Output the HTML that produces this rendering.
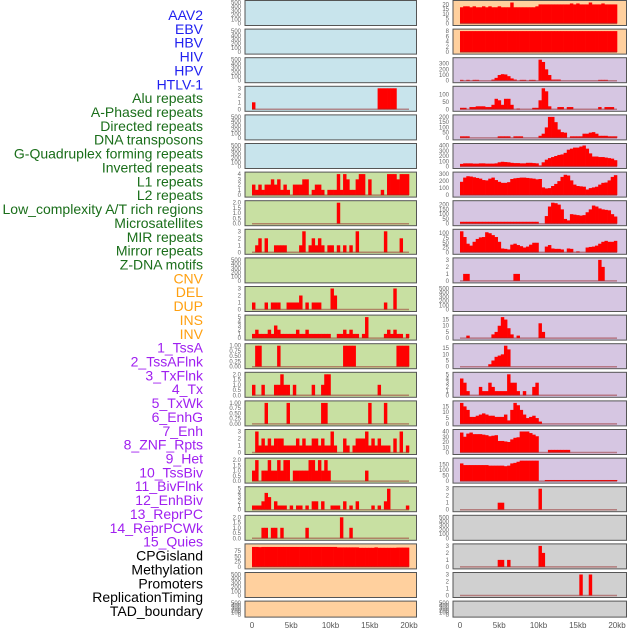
<!DOCTYPE html>
<html><head><meta charset="utf-8"><style>
html,body{margin:0;padding:0;background:#fff;width:630px;height:630px;overflow:hidden}
svg{display:block}
</style></head><body>
<svg id="chart" width="630" height="630" xmlns="http://www.w3.org/2000/svg">
<g id="labels"></g>
<g id="panels"></g>
<g id="xaxis"></g>
</svg>
<script>
const labelNames = ["AAV2","EBV","HBV","HIV","HPV","HTLV-1","Alu repeats","A-Phased repeats","Directed repeats","DNA transposons","G-Quadruplex forming repeats","Inverted repeats","L1 repeats","L2 repeats","Low_complexity A/T rich regions","Microsatellites","MIR repeats","Mirror repeats","Z-DNA motifs","CNV","DEL","DUP","INS","INV","1_TssA","2_TssAFlnk","3_TxFlnk","4_Tx","5_TxWk","6_EnhG","7_Enh","8_ZNF_Rpts","9_Het","10_TssBiv","11_BivFlnk","12_EnhBiv","13_ReprPC","14_ReprPCWk","15_Quies","CPGisland","Methylation","Promoters","ReplicationTiming","TAD_boundary"];
const labelGroups = ["v","v","v","v","v","v","r","r","r","r","r","r","r","r","r","r","r","r","r","s","s","s","s","s","c","c","c","c","c","c","c","c","c","c","c","c","c","c","c","o","o","o","o","o"];
const xTickLabels = ["0","5kb","10kb","15kb","20kb"];
const xTickValues = [0,5,10,15,20];

const E = null;
const L04=[1,0,0,0,0,0,0,0,0,0,0,0,0,0,0,0,0,0,0,0,0,0,0,0,0,0,0,0,0,0,0,0,0,0,0,0,0,0,0,0,3,3,3,3,3,3,0,0,0,0];
const L07=[2,1,2,1,2,2,3,2,3,1,2,1,0,2,2,2,3,3,0,1,2,2,1,0,1,1,1,4,1,4,3,1,1,3,4,4,0,3,0,0,0,1,0,4,4,4,3,4,4,4];
const L08=[0,0,0,0,0,0,0,0,0,0,0,0,0,0,0,0,0,0,0,0,0,0,0,0,0,0,0,2,0,0,0,0,0,0,0,0,0,0,0,0,0,0,0,0,0,0,0,0,0,0];
const L09=[0,1,2,0,2,0,0,1,1,1,1,0,0,0,0,1,3,0,1,2,1,2,1,0,1,1,0,1,0,1,0,1,0,3,0,0,0,0,0,0,0,0,3,0,0,0,0,2,0,0];
const L11=[1,0,0,0,1,0,1,1,1,0,0,1,1,1,1,2,0,1,0,1,1,1,0,0,0,3,2,0,0,0,0,0,0,0,0,0,0,0,0,0,0,0,1,0,0,3,0,0,0,0];
const L12=[1,2,1,1,1,2,1,3,2,1,1,1,1,1,2,1,1,2,1,1,1,1,1,1,1,0,0,1,1,2,1,2,1,1,0,1,5,0,0,0,0,0,1,2,1,2,1,1,0,1];
const L13=[0,1,1,0,0,0,0,0,1,0,0,0,0,0,0,0,0,0,0,0,0,0,0,0,0,0,0,0,0,1,1,1,1,0,0,0,0,0,0,0,0,0,0,0,0,0,1,1,1,1];
const L14=[1,0,0,1,0,0,0,1,1,2,1,1,0,1,0,0,0,0,0,1,0,0,1,2,2,0,0,0,0,0,0,0,0,0,0,0,0,0,0,0,1,0,0,0,0,0,0,0,0,0];
const L15=[0,0,0,0,1,0,0,0,0,0,0,1,0,0,0,0,0,0,0,0,0,0,1,1,0,0,0,0,0,0,0,0,0,0,0,0,0,1,0,0,0,0,1,0,0,0,0,0,0,0];
const L16=[0,3,1,2,1,2,1,2,2,2,1,1,1,1,2,1,2,1,1,2,2,1,2,1,1,3,1,0,0,2,1,0,1,2,2,2,3,1,2,1,2,1,1,1,0,2,0,3,0,1];
const L17=[1,2,0,1,1,2,1,1,2,1,2,2,0,1,1,1,1,1,2,2,1,2,1,2,1,0,0,0,0,0,0,0,0,0,0,0,1,0,0,0,0,0,0,0,0,0,0,0,0,0];
const L18=[1,1,1,2,4,3,0,2,1,1,1,0,1,0,1,1,0,1,0,2,2,0,2,0,0,1,1,1,0,2,0,1,0,2,0,0,0,0,1,0,1,0,2,5,0,0,0,0,0,1];
const L19=[0,0,0,1,1,0,1,1,0,1,0,0,0,0,0,0,0,1,0,0,0,0,0,0,0,0,0,0,2,0,0,1,0,0,0,0,0,0,0,0,0,0,0,0,0,0,0,0,0,0];
const L20=[95,95,94,95,95,95,95,95,95,95,95,95,95,95,95,95,95,95,95,95,95,95,95,95,95,95,95,93,93,93,93,93,93,93,91,91,91,91,91,93,91,91,91,91,91,91,92,92,92,92];

const R01=[17,18,18,17,18,17,17,18,17,18,17,17,18,17,17,17,22,17,17,17,17,17,17,17,18,20,20,20,20,20,20,20,20,20,20,21,20,21,20,20,20,22,20,20,20,21,20,20,20,20];
const R02=[8,8,8,8,8,8,8,8,8,8,8,8,8,8,8,8,8,8,8,8,8,8,8,8,8,8,8,8,8,8,8,8,8,8,8,8,8,8,8,8,8,8,8,8,8,8,8,8,8,8];
const R03=[15,0,15,0,15,15,0,0,0,0,20,50,100,115,110,80,40,20,0,15,15,0,15,15,0,370,330,200,100,20,20,20,0,0,0,0,0,0,0,0,0,0,0,0,15,15,15,0,0,0];
const R04=[10,10,0,15,15,20,20,20,15,15,30,70,60,30,70,70,30,0,5,0,0,0,0,10,10,60,140,120,20,0,0,15,15,0,15,15,0,0,0,0,0,0,0,0,15,0,15,15,15,0];
const R05=[15,15,15,0,0,0,0,0,0,0,0,0,15,15,15,15,0,15,15,15,0,0,0,0,0,20,40,100,200,200,150,80,55,50,0,15,15,15,15,40,40,50,55,40,20,20,20,15,15,15];
const R06=[50,60,60,60,55,55,60,60,55,55,55,60,80,90,85,80,70,65,65,60,60,70,70,65,60,20,80,130,160,180,200,220,230,260,320,340,360,360,380,400,340,250,190,190,180,180,170,160,150,120];
const R07=[190,250,270,265,255,245,235,215,210,235,250,215,190,175,175,185,230,240,245,250,250,245,240,235,225,230,110,95,100,130,160,200,260,290,280,210,150,130,125,120,80,100,110,120,150,175,180,210,260,285];
const R08=[20,20,20,20,20,20,20,20,20,20,20,20,20,20,20,20,20,20,20,20,20,20,20,20,20,0,0,80,180,220,215,200,150,50,35,100,95,90,85,90,120,150,190,180,160,150,145,140,100,75];
const R09=[110,80,45,35,55,70,78,80,105,100,90,80,55,20,18,15,40,45,38,32,25,30,40,50,50,0,0,30,38,20,18,18,15,0,20,18,0,5,0,0,25,28,30,35,45,55,60,55,55,60];
const R10=[0,1,1,0,0,0,0,0,0,0,0,0,0,0,0,0,0,1,1,0,0,0,0,0,0,0,0,0,0,0,0,0,0,0,0,0,0,0,0,0,0,0,0,0,3,2,0,0,0,0];
const R12=[0,0,2,0,0,0,0,0,0,0,3,5,10,17,15,8,3,0,2,0,0,0,0,0,0,12,5,0,0,0,0,0,0,0,0,0,0,0,0,0,0,0,0,0,0,0,0,0,0,0];
const R13=[0,0,0,0,0,0,0,0,0,2,5,8,9,10,17,14,0,0,0,0,0,0,0,0,0,0,0,0,0,0,0,0,0,0,0,0,0,0,0,0,0,0,0,0,0,0,0,0,0,0];
const R14=[4,3,1,0,0,0,2,1,1,3,2,1,1,1,1,5,3,3,1,0,1,0,0,2,3,0,0,0,0,0,0,0,0,0,0,0,0,0,0,0,0,0,0,0,0,0,0,0,0,0];
const R15=[18,15,12,6,6,7,8,9,8,7,7,6,6,6,8,3,12,18,16,12,8,5,6,7,5,2,0,0,0,0,0,0,0,0,0,0,0,0,0,0,0,0,0,0,0,0,0,0,0,0];
const R16=[38,30,36,38,35,35,35,34,33,31,32,33,22,22,21,20,25,28,29,40,40,40,37,34,31,0,0,0,5,5,5,5,5,5,5,0,0,0,0,0,0,0,0,0,0,0,0,0,0,0];
const R17=[160,145,145,145,145,145,145,145,145,140,140,140,140,140,135,140,160,165,175,185,185,185,185,185,185,0,0,10,10,10,10,10,10,10,10,10,10,10,10,10,10,10,10,10,10,10,10,10,10,10];
const R18=[0,0,0,0,0,0,0,0,0,0,0,0,1,1,0,0,0,0,0,0,0,0,0,0,0,3,0,0,0,0,0,0,0,0,0,0,0,0,0,0,0,0,0,0,0,0,0,0,0,0];
const R20=[0,0,0,0,0,0,0,0,0,0,0,0,1,1,0,1,0,0,0,0,0,0,0,0,0,3,2,0,0,0,0,0,0,0,0,0,0,0,0,0,0,0,0,0,0,0,0,0,0,0];
const R21=[0,0,0,0,0,0,0,0,0,0,0,0,0,0,0,0,0,0,0,0,0,0,0,0,0,0,0,0,0,0,0,0,0,0,0,0,0,0,3,0,0,3,0,0,0,0,0,0,0,0];

const TE=[0,100,200,300,400,500];
const T3=[0,1,2,3], T4=[0,1,2,3,4], T5=[0,1,2,3,4,5], T2=[0,0.5,1,1.5,2], T1=[0,0.25,0.5,0.75,1];
const leftBg=["b","b","b","b","b","b","g","g","g","g","g","g","g","g","g","g","g","g","g","p","p","p"];
const rightBg=["p","p","l","l","l","l","l","l","l","l","l","l","l","l","l","l","l","y","y","y","y","y"];
const leftData=[E,E,E,L04,E,E,L07,L08,L09,E,L11,L12,L13,L14,L15,L16,L17,L18,L19,L20,E,E];
const leftTicks=[TE,TE,TE,T3,TE,TE,T4,T2,T3,TE,T3,T5,T1,T2,T1,T3,T2,T5,T2,[0,25,50,75],TE,TE];
const leftMax=[500,500,500,3,500,500,4,2,3,500,3,5,1,2,1,3,2,5,2,100,500,500];
const rightData=[R01,R02,R03,R04,R05,R06,R07,R08,R09,R10,E,R12,R13,R14,R15,R16,R17,R18,E,R20,R21,E];
const rightTicks=[[0,5,10,15,20],[0,2,4,6,8],[0,100,200,300],[0,50,100],[0,50,100,150,200],[0,100,200,300,400],[0,100,200,300],[0,50,100,150,200],[0,25,50,75,100],T3,TE,[0,5,10,15],[0,5,10,15],T5,[0,5,10,15],[0,10,20,30,40],[0,50,100,150],T3,TE,T3,T3,TE];
const rightMax=[22,8,370,140,200,400,300,220,110,3,500,17,17,5,18,40,190,3,500,3,3,500];
const tickFmt={T2:1,T1:2};

const NS="http://www.w3.org/2000/svg";
const bgColors={b:"#c8e4ec",g:"#c8e0a2",p:"#ffd09e",l:"#d6c6e2",y:"#d0d0d0"};
const groupColors={v:"#2020f0",r:"#1a6e1a",s:"#ffa010",c:"#a020f0",o:"#000000"};
function mk(tag,attrs,parent){const el=document.createElementNS(NS,tag);for(const k in attrs)el.setAttribute(k,attrs[k]);parent.appendChild(el);return el;}

const labelsG=document.getElementById('labels');
labelNames.forEach((name,i)=>{
  const t=mk('text',{x:203,y:(15+i*13.86+5).toFixed(1),'text-anchor':'end','font-size':'14','font-family':'Liberation Sans, sans-serif',fill:groupColors[labelGroups[i]]},labelsG);
  t.textContent=name;
  
  
});

const panelsG=document.getElementById('panels');
const cols=[{x0:245,x1:416.5,d0:252,d1:409,tx:241,data:leftData,ticks:leftTicks,max:leftMax,bg:leftBg,side:'left'},
            {x0:453,x1:626.5,d0:460,d1:617,tx:449,data:rightData,ticks:rightTicks,max:rightMax,bg:rightBg,side:'right'}];
function fmtTick(v,ticks){
  if(ticks===T1)return v.toFixed(2);
  if(ticks===T2)return v.toFixed(1);
  return String(v);
}
cols.forEach(c=>{
  const xs=kb=>c.d0+(c.d1-c.d0)*kb/20;
  for(let r=0;r<22;r++){
    const top=r*28.6+0.5, h=(r===21)?16:25, bot=top+h;
    const g=mk('g',{},panelsG);
    
    
    const rect=mk('rect',{x:c.x0,y:top,width:c.x1-c.x0,height:h,fill:bgColors[c.bg[r]],stroke:'none'},g);
    
    
    const ymax=c.max[r];
    const ys=v=>bot-2-(v/ymax)*(h-4);
    c.ticks[r].forEach(v=>{
      const t=mk('text',{x:c.tx,y:(ys(v)+2).toFixed(1),'text-anchor':'end','font-size':'6','font-family':'Liberation Sans, sans-serif',fill:'#666'},g);
      t.textContent=fmtTick(v,c.ticks[r]);
      
      
    });
    const data=c.data[r];
    if(data){
      const bw=(c.d1-c.d0)/data.length;
      data.forEach((v,i)=>{
        if(v<=0)return;
        const y=ys(v);
        const b=mk('rect',{x:(xs(i*20/data.length)).toFixed(2),y:y.toFixed(2),width:(bw+0.3).toFixed(2),height:(bot-2-y).toFixed(2),fill:'#ff0000'},g);
        
        
      });
      const bl=mk('line',{x1:xs(0),x2:xs(20),y1:bot-2,y2:bot-2,stroke:'rgba(150,40,40,0.5)','stroke-width':1.5},g);
      
      
    }
    const fr=mk('rect',{x:c.x0,y:top,width:c.x1-c.x0,height:h,fill:'none',stroke:'#555','stroke-width':1},g);
    
    
  }
  const xg=document.getElementById('xaxis');
  xTickValues.forEach((v,i)=>{
    const t=mk('text',{x:xs(v),y:628,'text-anchor':'middle','font-size':'8','font-family':'Liberation Sans, sans-serif',fill:'#555'},xg);
    t.textContent=xTickLabels[i];
    
    
  });
});
</script>
</body></html>
